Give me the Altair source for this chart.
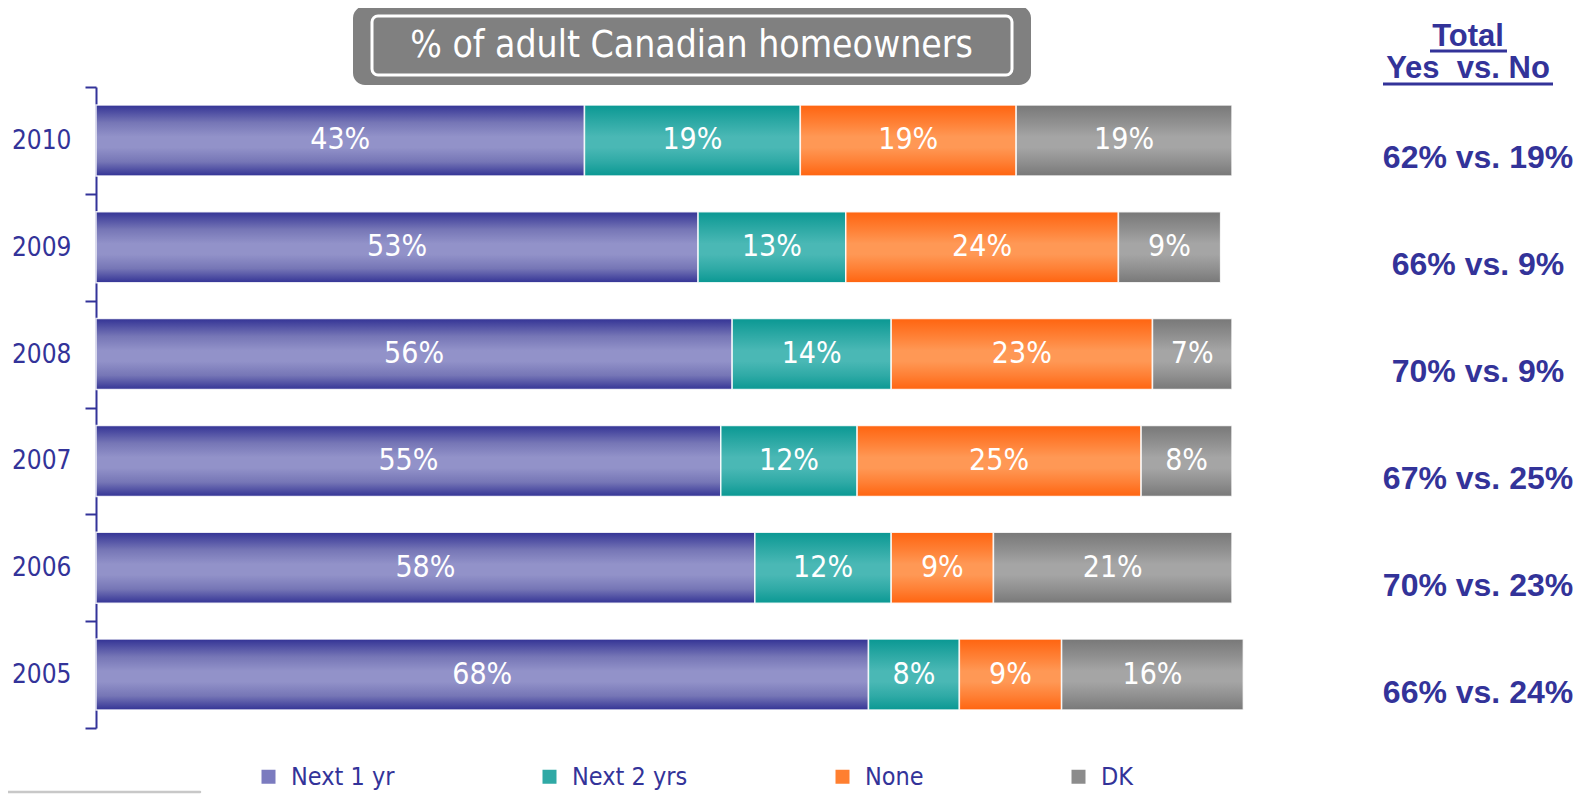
import altair as alt
import pandas as pd

# ---------------- data ----------------
years = ["2010", "2009", "2008", "2007", "2006", "2005"]
categories = ["Next 1 yr", "Next 2 yrs", "None", "DK"]
next_1_yr = [43, 53, 56, 55, 58, 68]
next_2_yrs = [19, 13, 14, 12, 12, 8]
none_vals = [19, 24, 23, 25, 9, 9]
dk_vals = [19, 9, 7, 8, 21, 16]
totals = ["62% vs. 19%", "66% vs. 9%", "70% vs. 9%", "67% vs. 25%", "70% vs. 23%", "66% vs. 24%"]
title_text = "% of adult Canadian homeowners"
header_top = "Total"
header_bottom = "Yes\u00a0 vs. No"

series = [next_1_yr, next_2_yrs, none_vals, dk_vals]
rows = []
for ci, (cat, vals) in enumerate(zip(categories, series)):
    for y, v in zip(years, vals):
        rows.append({"year": y, "category": cat, "value": v, "order": ci})
df = pd.DataFrame(rows)
tot_df = pd.DataFrame({"year": years, "total": totals})

# ---------------- styles ----------------
NARROW = "Liberation Sans Narrow, Arial Narrow, DejaVu Sans Condensed, sans-serif"
BOLD = "Liberation Sans, Arial, sans-serif"
NAVY = "#333399"
W, H = 1136, 641


def grad(edge, mid, mid2):
    return alt.Gradient(
        gradient="linear", x1=0, x2=0, y1=0, y2=1,
        stops=[
            alt.GradientStop(offset=0, color=edge),
            alt.GradientStop(offset=0.25, color=mid2),
            alt.GradientStop(offset=0.45, color=mid),
            alt.GradientStop(offset=0.6, color=mid),
            alt.GradientStop(offset=0.8, color=mid2),
            alt.GradientStop(offset=1, color=edge),
        ],
    )


fills = {
    "Next 1 yr": grad("#333395", "#9292c9", "#7676b6"),
    "Next 2 yrs": grad("#0a9893", "#4ab8b5", "#2faaa6"),
    "None": grad("#ff6410", "#ff9855", "#ff8035"),
    "DK": grad("#787878", "#a5a5a5", "#909090"),
}
legend_colors = ["#7b7bbf", "#2fa9a5", "#ff7f30", "#8c8c8c"]

y_enc = alt.Y(
    "year:N",
    sort=years,
    scale=alt.Scale(paddingInner=0, paddingOuter=0),
    axis=alt.Axis(
        title=None, tickBand="extent", domainColor=NAVY, domainWidth=2,
        tickColor=NAVY, tickWidth=2, tickSize=11, labelFont=NARROW,
        labelFontSize=26, labelColor=NAVY, labelPadding=14, labelAngle=0,
    ),
)
x_scale = alt.Scale(domain=[0, 100], nice=False, zero=True)

base = alt.Chart(df).transform_stack(
    stack="value", groupby=["year"], as_=["x0", "x1"],
    sort=[alt.SortField("order", order="ascending")],
)

layers = []
for cat in categories:
    layers.append(
        base.transform_filter(alt.datum.category == cat)
        .mark_bar(fill=fills[cat], stroke="white", strokeWidth=1.5, strokeOpacity=0.85,
                  height=alt.RelativeBandSize(0.665))
        .encode(x=alt.X("x0:Q", scale=x_scale, axis=None), x2="x1:Q", y=y_enc)
    )

labels = (
    base.transform_calculate(mid="(datum.x0 + datum.x1) / 2", label="datum.value + '%'")
    .mark_text(font=NARROW, fontSize=30, color="white", baseline="middle")
    .encode(x=alt.X("mid:Q", scale=x_scale, axis=None), y=y_enc, text="label:N")
)

legend_layer = base.mark_square(opacity=0).encode(
    x=alt.X("x0:Q", scale=x_scale, axis=None),
    y=y_enc,
    color=alt.Color(
        "category:N",
        scale=alt.Scale(domain=categories, range=legend_colors),
        legend=alt.Legend(
            title=None, orient="none", legendX=160, legendY=677,
            direction="horizontal", symbolType="square", symbolSize=196,
            symbolOpacity=1, symbolStrokeWidth=0, labelFont=NARROW,
            labelFontSize=25, labelColor=NAVY, labelOffset=10,
            columnPadding=142, labelLimit=300,
        ),
    ),
)

totals_layer = alt.Chart(tot_df).mark_text(
    font=BOLD, fontWeight="bold", fontSize=32, color=NAVY, dy=18, align="center"
).encode(x=alt.value(1382), y=y_enc, text="total:N")

one = pd.DataFrame({"t": [title_text]})
box_outer = alt.Chart(one).mark_rect(cornerRadius=12, fill="#808080").encode(
    x=alt.value(257), x2=alt.value(935), y=alt.value(-81), y2=alt.value(-2)
)
box_inner = alt.Chart(one).mark_rect(
    cornerRadius=6, fill="#808080", stroke="white", strokeWidth=3
).encode(x=alt.value(276), x2=alt.value(916), y=alt.value(-71), y2=alt.value(-12))
box_text = alt.Chart(one).mark_text(
    font=NARROW, fontSize=37, color="white", baseline="middle"
).encode(x=alt.value(595.5), y=alt.value(-41), text="t:N")

hdr = pd.DataFrame({"t": [header_top], "b": [header_bottom]})
hdr1 = alt.Chart(hdr).mark_text(
    font=BOLD, fontWeight="bold", fontSize=31, color=NAVY, baseline="middle"
).encode(x=alt.value(1372), y=alt.value(-50), text="t:N")
hdr2 = alt.Chart(hdr).mark_text(
    font=BOLD, fontWeight="bold", fontSize=31, color=NAVY, baseline="middle"
).encode(x=alt.value(1372), y=alt.value(-18), text="b:N")
ul1 = alt.Chart(hdr).mark_rule(color=NAVY, strokeWidth=3).encode(
    x=alt.value(1334), x2=alt.value(1411), y=alt.value(-36)
)
ul2 = alt.Chart(hdr).mark_rule(color=NAVY, strokeWidth=3).encode(
    x=alt.value(1287), x2=alt.value(1457), y=alt.value(-3)
)
bottom_line = alt.Chart(hdr).mark_rule(color="#c8c8c8", strokeWidth=2.5, strokeCap="round").encode(
    x=alt.value(-88), x2=alt.value(104), y=alt.value(705)
)

chart = alt.layer(
    *layers, labels, legend_layer, totals_layer,
    box_outer, box_inner, box_text, hdr1, hdr2, ul1, ul2, bottom_line,
).properties(
    width=W, height=H,
    autosize=alt.AutoSizeParams(type="none"),
    padding={"left": 88, "top": 79, "right": 345, "bottom": 66},
).configure_view(stroke=None)

chart.save("out.html", embed_options={"renderer": "svg", "actions": False})
